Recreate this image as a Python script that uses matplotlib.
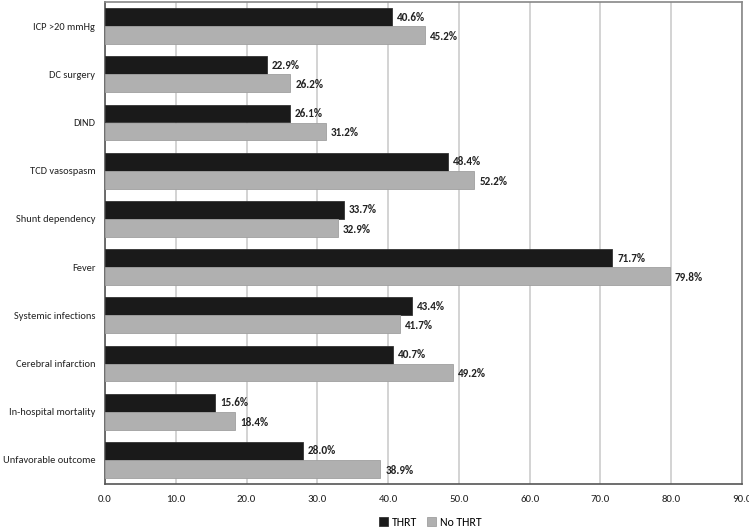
import matplotlib
matplotlib.use("Agg")
import matplotlib.pyplot as plt
from matplotlib import font_manager
import numpy as np

categories = ["ICP >20 mmHg", "DC surgery", "DIND", "TCD vasospasm", "Shunt dependency",
              "Fever", "Systemic infections", "Cerebral infarction", "In-hospital mortality",
              "Unfavorable outcome"]
thrt = [40.6, 22.9, 26.1, 48.4, 33.7, 71.7, 43.4, 40.7, 15.6, 28.0]
no_thrt = [45.2, 26.2, 31.2, 52.2, 32.9, 79.8, 41.7, 49.2, 18.4, 38.9]
xticks = [0, 10, 20, 30, 40, 50, 60, 70, 80, 90]

available = set(f.name for f in font_manager.fontManager.ttflist)
fam = next(f for f in ['Carlito', 'Liberation Sans Narrow', 'Lato', 'DejaVu Sans'] if f in available)
plt.rcParams['font.family'] = [fam, 'DejaVu Sans']

fig = plt.figure(figsize=(7.49, 5.31), dpi=100)
renderer = fig.canvas.get_renderer()


def fit_size(sample, target_px, weight='normal'):
    t = fig.text(0, 0, sample, fontsize=10, fontweight=weight)
    w = t.get_window_extent(renderer=renderer).width
    t.remove()
    return 10 * target_px / w


lab_fs = fit_size("Unfavorable outcome", 92)
val_fs = fit_size("40.6%", 28, 'bold')
tick_fs = fit_size("10.0", 19.5)
leg_fs = fit_size("No THRT", 42)

ax = fig.add_axes([105/749, 1-484/531, (742-105)/749, (484-2)/531])

y = np.arange(len(categories))
h = 0.373
ax.barh(y - h/2, thrt, height=h, color='#1a1a1a', edgecolor='#333333', linewidth=0.6, label='THRT', zorder=3)
ax.barh(y + h/2, no_thrt, height=h, color='#b0b0b0', edgecolor='#a0a0a0', linewidth=0.6, label='No THRT', zorder=3)

for yi, v in zip(y, thrt):
    ax.text(v + 0.7, yi - h/2, f"{v:.1f}%", va='center', ha='left', fontsize=val_fs, fontweight='bold', color='#222222')
for yi, v in zip(y, no_thrt):
    ax.text(v + 0.7, yi + h/2 + 0.03, f"{v:.1f}%", va='center', ha='left', fontsize=val_fs, fontweight='bold', color='#222222')

ax.set_xlim(0, 90)
ax.set_ylim(len(categories) - 0.5, -0.5)
ax.set_xticks(xticks)
ax.set_xticklabels([f"{t:.1f}" for t in xticks], fontsize=tick_fs, color='#222222')
ax.set_yticks(y)
ax.set_yticklabels(categories, fontsize=lab_fs, color='#222222')
ax.tick_params(axis='both', length=0)
ax.tick_params(axis='x', pad=8)
ax.tick_params(axis='y', pad=7)
ax.xaxis.grid(True, color='#cccccc', linewidth=1.2, zorder=0)
ax.set_axisbelow(True)
for s in ['top', 'right']:
    ax.spines[s].set_color('#888888')
    ax.spines[s].set_linewidth(1.2)
for s in ['left', 'bottom']:
    ax.spines[s].set_color('#555555')
    ax.spines[s].set_linewidth(1.2)

fig.legend(loc='center', bbox_to_anchor=(430/749, 1-522/531), ncol=2, frameon=False,
           fontsize=leg_fs, handlelength=0.8, handleheight=0.8, handletextpad=0.3, columnspacing=0.8)

fig.savefig("out.png", dpi=100)
